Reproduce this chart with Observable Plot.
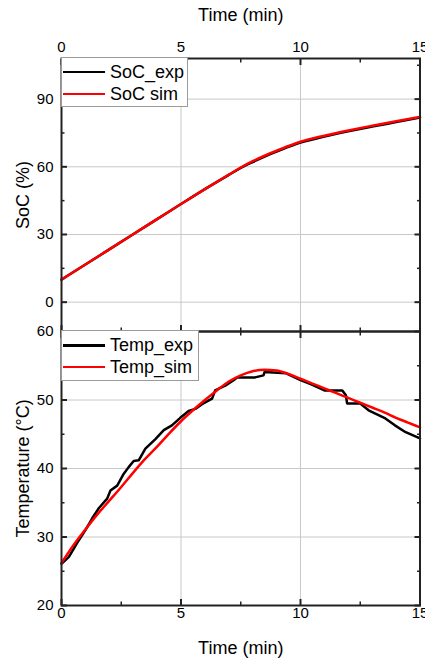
<!DOCTYPE html>
<html>
<head>
<meta charset="utf-8">
<script src="https://cdn.jsdelivr.net/npm/d3@7"></script>
<script src="https://cdn.jsdelivr.net/npm/@observablehq/plot@0.6"></script>
<style>
  html, body { margin: 0; padding: 0; background: #fff; }
  body { font-family: "Liberation Sans", Arial, sans-serif; }
  #wrap { position: relative; width: 425px; height: 659px; overflow: hidden; }
  #wrap svg { position: absolute; left: 0; }
  .legend { position: absolute; background: #fff; border: 1px solid #9a9a9a; box-sizing: border-box; font-size: 18px; color: #000; z-index: 5; }
  .legend .row { position: absolute; left: 0; height: 22px; display: flex; align-items: center; white-space: nowrap; }
  .legend .sw { display: inline-block; width: 42px; height: 2.5px; margin-left: 1px; margin-right: 5px; }
</style>
</head>
<body>
<div id="wrap"></div>
<script>
// ---------- data ----------
const socTime   = [0, 1, 2, 3, 4, 5, 6, 7, 7.5, 8, 8.5, 9, 9.5, 10, 11, 12, 13, 14, 15];
const socSim    = [10.0, 16.7, 23.4, 30.1, 36.8, 43.5, 50.1, 56.5, 59.7, 62.5, 64.9, 67.1, 69.2, 71.1, 73.8, 76.1, 78.2, 80.2, 82.1];
const socExp    = [10.0, 16.7, 23.4, 30.1, 36.8, 43.5, 50.1, 56.4, 59.5, 62.1, 64.5, 66.7, 68.8, 70.7, 73.4, 75.7, 77.8, 79.8, 81.8];

const tempSimTime = [0, 0.5, 1, 1.5, 2, 2.5, 3, 3.5, 4, 4.5, 5, 5.5, 6, 6.5, 7, 7.5, 8, 8.5, 9, 9.5, 10, 10.5, 11, 11.5, 12, 12.5, 13, 13.5, 14, 14.5, 15];
const tempSim     = [26.2, 28.8, 31.1, 33.3, 35.3, 37.3, 39.4, 41.4, 43.2, 45.1, 46.9, 48.5, 50.0, 51.4, 52.7, 53.6, 54.2, 54.4, 54.3, 53.8, 53.1, 52.4, 51.7, 51.0, 50.3, 49.6, 48.9, 48.2, 47.4, 46.7, 46.0];

const tempExpTime = [0, 0.31, 0.65, 1.0, 1.28, 1.56, 1.91, 2.05, 2.33, 2.6, 2.81, 3.02, 3.23, 3.51, 3.93, 4.28, 4.62, 4.97, 5.32, 5.6, 5.88, 6.3, 6.43, 6.85, 7.2, 7.35, 8.1, 8.45, 8.5, 9.4, 10.0, 10.5, 11.0, 11.75, 11.9, 11.95, 12.5, 12.85, 13.55, 13.95, 14.4, 15];
const tempExp     = [26.1, 27.1, 29.1, 31.0, 32.7, 34.2, 35.6, 36.8, 37.5, 39.2, 40.2, 41.1, 41.2, 42.9, 44.3, 45.6, 46.3, 47.4, 48.4, 48.7, 49.4, 50.2, 51.4, 52.1, 52.9, 53.3, 53.3, 53.6, 54.1, 53.9, 52.9, 52.2, 51.4, 51.4, 50.7, 49.5, 49.5, 48.5, 47.3, 46.3, 45.3, 44.4];

const xTicks      = [0, 5, 10, 15];
const xMinor      = [2.5, 7.5, 12.5];
const socTicks    = [0, 30, 60, 90];
const socMinor    = [15, 45, 75, 105];
const tempTicks   = [20, 30, 40, 50, 60];
const tempMinor   = [25, 35, 45, 55];

const socLegend  = ["SoC_exp", "SoC sim"];
const tempLegend = ["Temp_exp", "Temp_sim"];
const xTitle = "Time (min)";
const socTitle = "SoC (%)";
const tempTitle = "Temperature (°C)";

// ---------- build ----------
const rows = (ts, vs) => ts.map((t, i) => ({t, v: vs[i]}));
const FONT = "Liberation Sans, Arial, sans-serif";
const FRAME = "#222";
const GRID = "#c8c8c8";

function tickMarks(yMajor, yMinor) {
  const m = [];
  for (const anchor of ["top", "bottom"]) {
    m.push(Plot.axisX(xTicks, {anchor, tickSize: -6, fill: "none", stroke: FRAME, strokeWidth: 2}));
    m.push(Plot.axisX(xMinor, {anchor, tickSize: -3.5, fill: "none", stroke: FRAME, strokeWidth: 1.5}));
  }
  for (const anchor of ["left", "right"]) {
    m.push(Plot.axisY(yMajor, {anchor, tickSize: -6, fill: "none", stroke: FRAME, strokeWidth: 2}));
    m.push(Plot.axisY(yMinor, {anchor, tickSize: -3.5, fill: "none", stroke: FRAME, strokeWidth: 1.5}));
  }
  return m;
}

const topPlot = Plot.plot({
  width: 425, height: 331,
  marginTop: 58, marginBottom: 0, marginLeft: 61, marginRight: 5.5,
  style: {overflow: "visible", background: "transparent", fontFamily: FONT, fontSize: "15px", color: "#000"},
  x: {domain: [0, 15]},
  y: {domain: [-13, 108]},
  marks: [
    Plot.gridX(xTicks.slice(1, -1), {stroke: GRID, strokeOpacity: 1, strokeWidth: 1}),
    Plot.gridY(socTicks, {stroke: GRID, strokeOpacity: 1, strokeWidth: 1}),
    Plot.line(rows(socTime, socExp), {x: "t", y: "v", stroke: "#000", strokeWidth: 2.5, curve: "monotone-x"}),
    Plot.line(rows(socTime, socSim), {x: "t", y: "v", stroke: "#ff0000", strokeWidth: 2.5, curve: "monotone-x"}),
    Plot.frame({stroke: FRAME, strokeWidth: 2}),
    ...tickMarks(socTicks, socMinor),
    Plot.axisX(xTicks, {anchor: "top", tickSize: 0, tickPadding: 7, label: null, fontSize: 15}),
    Plot.axisX([], {anchor: "top", tickSize: 0, label: xTitle, labelAnchor: "center", labelArrow: "none", labelOffset: 50, fontSize: 18}),
    Plot.axisY(socTicks, {anchor: "left", tickSize: 0, tickPadding: 8, label: null, fontSize: 15}),
    Plot.axisY([], {anchor: "left", tickSize: 0, label: socTitle, labelAnchor: "center", labelArrow: "none", labelOffset: 45, fontSize: 18})
  ]
});
topPlot.style.top = "0px";

const botPlot = Plot.plot({
  width: 425, height: 328,
  marginTop: 0, marginBottom: 54, marginLeft: 61, marginRight: 5.5,
  style: {overflow: "visible", background: "transparent", fontFamily: FONT, fontSize: "15px", color: "#000"},
  x: {domain: [0, 15]},
  y: {domain: [20, 60]},
  marks: [
    Plot.gridX(xTicks.slice(1, -1), {stroke: GRID, strokeOpacity: 1, strokeWidth: 1}),
    Plot.gridY(tempTicks.slice(1, -1), {stroke: GRID, strokeOpacity: 1, strokeWidth: 1}),
    Plot.line(rows(tempExpTime, tempExp), {x: "t", y: "v", stroke: "#000", strokeWidth: 2.5}),
    Plot.line(rows(tempSimTime, tempSim), {x: "t", y: "v", stroke: "#ff0000", strokeWidth: 2.5, curve: "monotone-x"}),
    Plot.frame({stroke: FRAME, strokeWidth: 2}),
    ...tickMarks(tempTicks, tempMinor),
    Plot.axisX(xTicks, {anchor: "bottom", tickSize: 0, tickPadding: 2, label: null, fontSize: 15}),
    Plot.axisX([], {anchor: "bottom", tickSize: 0, label: xTitle, labelAnchor: "center", labelArrow: "none", labelOffset: 48, fontSize: 18}),
    Plot.axisY(tempTicks, {anchor: "left", tickSize: 0, tickPadding: 8, label: null, fontSize: 15}),
    Plot.axisY([], {anchor: "left", tickSize: 0, label: tempTitle, labelAnchor: "center", labelArrow: "none", labelOffset: 45, fontSize: 18})
  ]
});
botPlot.style.top = "331px";

const wrap = document.getElementById("wrap");
wrap.appendChild(topPlot);
wrap.appendChild(botPlot);

function legend(names, colors, box, rowTops) {
  const div = document.createElement("div");
  div.className = "legend";
  Object.assign(div.style, {left: box[0] + "px", top: box[1] + "px", width: box[2] + "px", height: box[3] + "px"});
  names.forEach((n, i) => {
    const r = document.createElement("div");
    r.className = "row";
    r.style.top = rowTops[i] + "px";
    const sw = document.createElement("span");
    sw.className = "sw";
    sw.style.background = colors[i];
    const tx = document.createElement("span");
    tx.textContent = n;
    r.appendChild(sw); r.appendChild(tx);
    div.appendChild(r);
  });
  wrap.appendChild(div);
}
legend(socLegend, ["#000", "#ff0000"], [61, 57, 127, 50], [3, 25]);
legend(tempLegend, ["#000", "#ff0000"], [61, 330, 138, 51], [3.5, 25]);
</script>
</body>
</html>
